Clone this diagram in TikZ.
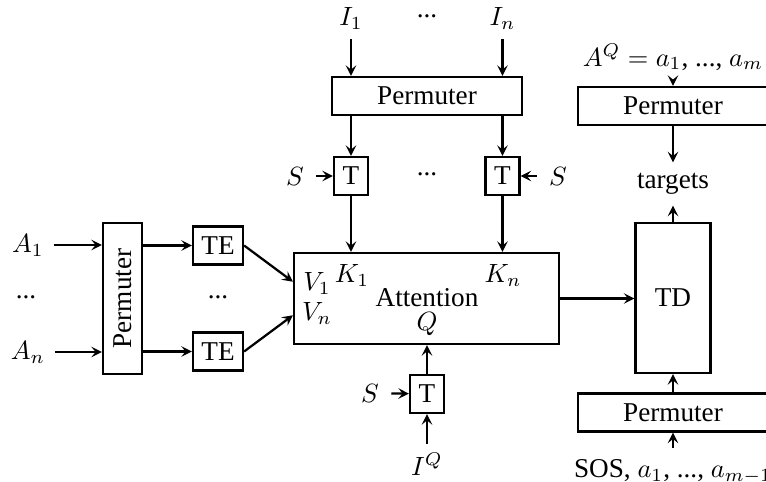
\documentclass[tikz,border=0pt]{standalone}
\usepackage{fontspec}
\setmainfont{Liberation Serif}
\usepackage{graphicx}
\usetikzlibrary{calc,arrows.meta}
\begin{document}
\begin{tikzpicture}[x=0.3788pt, y=-0.3788pt, font=\fontsize{10.3}{12.4}\selectfont,
  box/.style={draw, line width=0.85pt, inner sep=0pt},
  wh/.style 2 args={minimum width={#1*0.3788pt}, minimum height={#2*0.3788pt}},
  arr/.style={-{Stealth[length=4pt, width=4pt, inset=1.6pt]}, line width=0.85pt},
  lab/.style={inner sep=3.5pt},
  slab/.style={inner xsep=4.5pt, inner ysep=2pt},
  dots/.style={inner sep=0pt}]
\useasboundingbox (0,0) rectangle (766,482);

% left
\node[lab] (A1) at (28,245) {$A_1$};
\node[dots] (d1) at (26,297) {...};
\node[lab] (An) at (28,352) {$A_n$};
\node[box, wh={39}{151}] (PL) at (122.5,298.5) {\rotatebox{90}{Permuter}};
\node[box, wh={50}{38}] (TE1) at (218,245.5) {TE};
\node[box, wh={50}{38}] (TE2) at (218,351.5) {TE};
\node[dots] (d2) at (218,297) {...};
\draw[arr] (A1) -- (A1 -| PL.west);
\draw[arr] (An) -- (An -| PL.west);
\draw[arr] (PL.east |- TE1) -- (TE1);
\draw[arr] (PL.east |- TE2) -- (TE2);

% attention
\node[box, wh={265}{91}] (Att) at (426.5,298.5) {};
\node[inner sep=0pt] (AttT) at (427,298) {Attention};
\node[inner sep=0pt] (V1) at (317,283) {$V_1$};
\node[inner sep=0pt] (Vn) at (317,313) {$V_n$};
\node[inner sep=0pt] (K1) at (352,275) {$K_1$};
\node[inner sep=0pt] (Kn) at (503,275) {$K_n$};
\node[inner sep=0pt] (Q) at (427,324) {$Q$};
\draw[arr] (TE1.east) -- ($(Att.north west)!0.32!(Att.south west)$);
\draw[arr] (TE2.east) -- ($(Att.north west)!0.68!(Att.south west)$);

% top
\node[lab] (I1) at (351,18.5) {$I_1$};
\node[lab] (In) at (502.5,18.5) {$I_n$};
\node[dots] (d3) at (427,16) {...};
\node[box, wh={190}{38}] (PT) at (427,96) {Permuter};
\node[box, wh={34}{38}] (T1) at (351,176) {T};
\node[box, wh={34}{38}] (T2) at (502.5,176) {T};
\node[dots] (d4) at (427,174) {...};
\node[slab] (S1) at (295,176) {$S$};
\node[slab] (S2) at (558,176) {$S$};
\draw[arr] (I1) -- (I1 |- PT.north);
\draw[arr] (In) -- (In |- PT.north);
\draw[arr] (T1 |- PT.south) -- (T1);
\draw[arr] (T2 |- PT.south) -- (T2);
\draw[arr] (S1) -- (T1);
\draw[arr] (S2) -- (T2);
\draw[arr] (T1) -- (T1 |- Att.north);
\draw[arr] (T2) -- (T2 |- Att.north);

% bottom
\node[box, wh={34}{38}] (TQ) at (427,394) {T};
\node[slab] (S3) at (370,393) {$S$};
\node[inner sep=3pt] (IQ) at (427,464) {$I^Q$};
\draw[arr] (TQ) -- (TQ |- Att.south);
\draw[arr] (S3) -- (TQ);
\draw[arr] (IQ) -- (TQ);

% right
\node[box, wh={75}{150}] (TD) at (673,298) {TD};
\node[inner sep=3.5pt] (AQ) at (673,57) {$A^Q = a_1$, ..., $a_m$};
\node[box, wh={190}{38}] (PR1) at (673,106) {Permuter};
\node[inner sep=4pt] (tg) at (673,184) {targets};
\node[box, wh={190}{38}] (PR2) at (673,412.5) {Permuter};
\node[inner sep=4.5pt] (SOS) at (673,472) {SOS, $a_1$, ..., $a_{m-1}$};
\draw[arr] (Att.east) -- (Att.east -| TD.west);
\draw[arr] (AQ) -- (PR1);
\draw[arr] (PR1) -- (tg);
\draw[arr] (TD) -- (tg);
\draw[arr] (PR2) -- (TD);
\draw[arr] (SOS) -- (PR2);
\end{tikzpicture}
\end{document}
